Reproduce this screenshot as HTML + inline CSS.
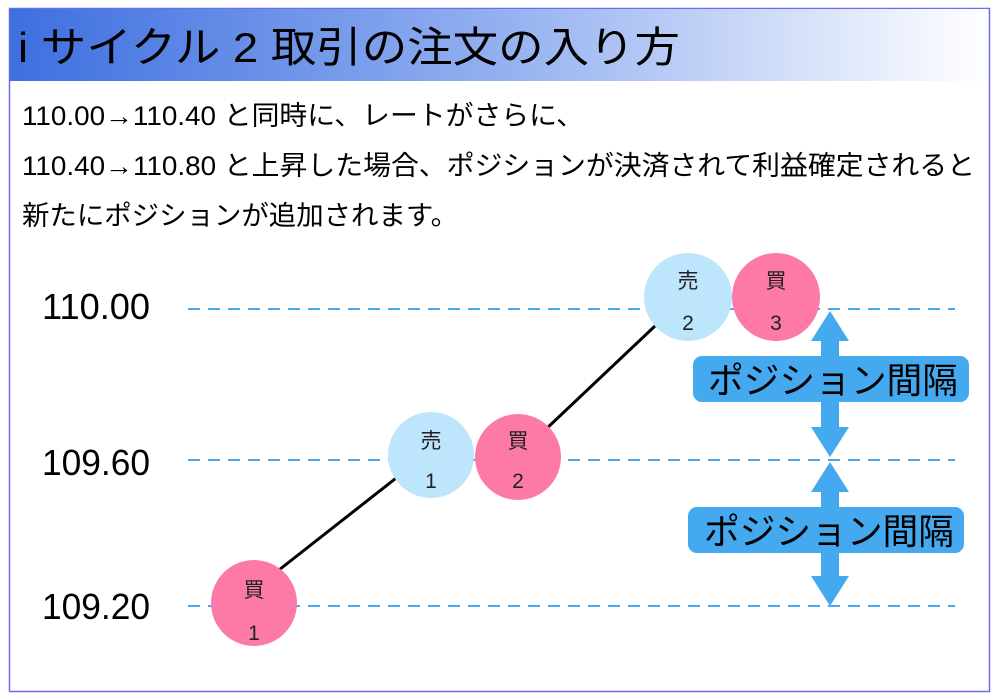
<!DOCTYPE html>
<html><head><meta charset="utf-8"><style>
body{margin:0;width:1000px;height:700px;background:#fff;overflow:hidden}
svg{display:block}
text{font-family:"Liberation Sans","Noto Sans CJK JP",sans-serif}
</style></head><body>
<svg width="1000" height="700" viewBox="0 0 1000 700">
<defs><linearGradient id="g" x1="0" x2="1"><stop offset="0" stop-color="#3d6fe0"/><stop offset="0.5" stop-color="#93b0f0"/><stop offset="1" stop-color="#ffffff"/></linearGradient></defs>
<rect x="9.5" y="8.5" width="980" height="683" fill="#fff" stroke="#6b6bf5" stroke-width="1.5"/>
<rect x="10" y="9" width="978" height="72" fill="url(#g)"/>
<text x="18" y="62" font-size="42" fill="#000" textLength="662" lengthAdjust="spacingAndGlyphs">i サイクル 2 取引の注文の入り方</text>
<text x="22" y="125" font-size="27" textLength="562" lengthAdjust="spacingAndGlyphs">110.00→110.40 と同時に、レートがさらに、</text>
<text x="22" y="175" font-size="27" textLength="953" lengthAdjust="spacingAndGlyphs">110.40→110.80 と上昇した場合、ポジションが決済されて利益確定されると</text>
<text x="22" y="225" font-size="27" textLength="436" lengthAdjust="spacingAndGlyphs">新たにポジションが追加されます。</text>
<g stroke="#45a9ef" stroke-width="2" stroke-dasharray="12 8">
<line x1="188" y1="309" x2="955" y2="309"/><line x1="188" y1="460" x2="955" y2="460"/><line x1="188" y1="606" x2="955" y2="606"/></g>
<g font-size="36"><text x="42" y="319" textLength="108" lengthAdjust="spacingAndGlyphs">110.00</text><text x="42" y="475" textLength="108" lengthAdjust="spacingAndGlyphs">109.60</text><text x="42" y="619" textLength="108" lengthAdjust="spacingAndGlyphs">109.20</text></g>
<g stroke="#000" stroke-width="3"><line x1="270" y1="577" x2="400" y2="475"/><line x1="545" y1="430" x2="655" y2="326"/></g>
<g font-size="21" text-anchor="middle" fill="#222">
<circle cx="254" cy="603" r="43" fill="#fd7aa8"/><text x="254" y="597">買</text><text x="254" y="640">1</text>
<circle cx="431" cy="455" r="43" fill="#bde5fb"/><text x="431" y="448">売</text><text x="431" y="488">1</text>
<circle cx="518" cy="457" r="43" fill="#fd7aa8"/><text x="518" y="448">買</text><text x="518" y="488">2</text>
<circle cx="688" cy="297" r="44" fill="#bde5fb"/><text x="688" y="288">売</text><text x="688" y="330">2</text>
<circle cx="776" cy="297" r="44" fill="#fd7aa8"/><text x="776" y="288">買</text><text x="776" y="330">3</text>
</g>
<g fill="#45a9ef">
<polygon points="830,311 849,341 839,341 839,427 849,427 830,457 811,427 821,427 821,341 811,341"/>
<polygon points="830,462 849,492 839,492 839,576 849,576 830,606 811,576 821,576 821,492 811,492"/>
<rect x="693" y="356" width="276" height="46" rx="9"/>
<rect x="688" y="507" width="276" height="46" rx="9"/>
</g>
<g font-size="36" fill="#000"><text x="708" y="393" textLength="250" lengthAdjust="spacingAndGlyphs">ポジション間隔</text><text x="704" y="544" textLength="250" lengthAdjust="spacingAndGlyphs">ポジション間隔</text></g>
</svg>
</body></html>
